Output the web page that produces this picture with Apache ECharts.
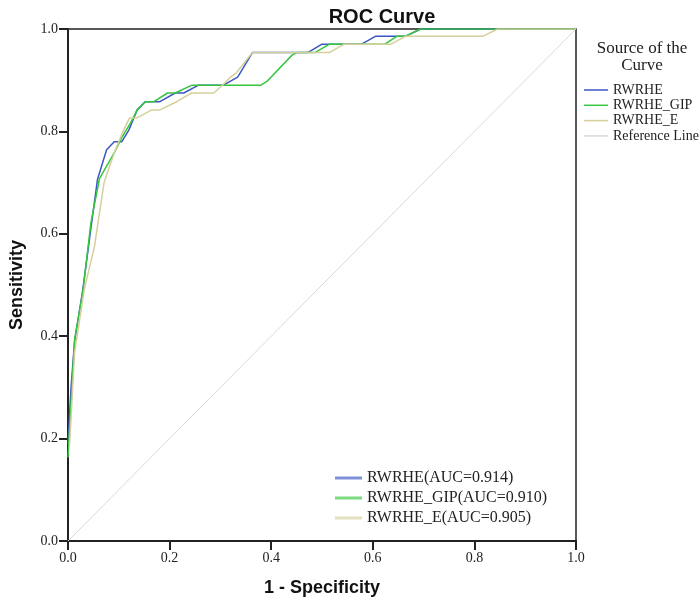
<!DOCTYPE html>
<html>
<head>
<meta charset="utf-8">
<script src="https://cdn.jsdelivr.net/npm/echarts@6/dist/echarts.min.js"></script>
<style>html,body{margin:0;padding:0;background:#fff}#c{width:700px;height:602px}</style>
</head>
<body>
<div id="c"></div>
<script>
// Data (1 - Specificity, Sensitivity)
const fprRWRHE = [0, 0.006, 0.013, 0.029, 0.047, 0.058, 0.076, 0.091, 0.106, 0.12, 0.136, 0.152, 0.181, 0.211, 0.228, 0.256, 0.305, 0.334, 0.363, 0.472, 0.499, 0.577, 0.606, 0.665, 0.694, 1];
const tprRWRHE = [0.19, 0.30, 0.39, 0.49, 0.625, 0.706, 0.764, 0.780, 0.780, 0.803, 0.842, 0.858, 0.858, 0.875, 0.875, 0.890, 0.890, 0.906, 0.954, 0.954, 0.970, 0.970, 0.986, 0.986, 1.0, 1.0];

const fprGIP = [0, 0.013, 0.029, 0.045, 0.062, 0.076, 0.091, 0.107, 0.123, 0.137, 0.152, 0.169, 0.196, 0.211, 0.243, 0.379, 0.392, 0.441, 0.451, 0.486, 0.514, 0.623, 0.648, 0.665, 0.694, 1];
const tprGIP = [0.163, 0.394, 0.485, 0.621, 0.708, 0.732, 0.758, 0.790, 0.816, 0.843, 0.858, 0.858, 0.875, 0.875, 0.890, 0.890, 0.898, 0.949, 0.954, 0.954, 0.970, 0.970, 0.986, 0.986, 1.0, 1.0];

const fprE = [0.003, 0.013, 0.032, 0.052, 0.071, 0.091, 0.107, 0.121, 0.135, 0.165, 0.181, 0.214, 0.243, 0.287, 0.305, 0.321, 0.331, 0.363, 0.514, 0.543, 0.635, 0.665, 0.817, 0.846, 1];
const tprE = [0.186, 0.368, 0.491, 0.575, 0.700, 0.758, 0.797, 0.826, 0.826, 0.842, 0.842, 0.858, 0.875, 0.875, 0.891, 0.907, 0.914, 0.954, 0.954, 0.970, 0.970, 0.986, 0.986, 1.0, 1.0];

const fprRef = [0, 1];
const tprRef = [0, 1];

const seriesNames = ['RWRHE', 'RWRHE_GIP', 'RWRHE_E', 'Reference Line'];
const aucLabels = ['RWRHE(AUC=0.914)', 'RWRHE_GIP(AUC=0.910)', 'RWRHE_E(AUC=0.905)'];

const colors = ['#3b57c4', '#35c63e', '#d6cf9b', '#d9d9d9'];
const zip = (xs, ys) => xs.map((x, i) => [x, ys[i]]);
const datasets = [zip(fprRWRHE, tprRWRHE), zip(fprGIP, tprGIP), zip(fprE, tprE), zip(fprRef, tprRef)];

const serif = 'Liberation Serif, Times New Roman, serif';
const sans = 'Liberation Sans, Arial, sans-serif';

const chart = echarts.init(document.getElementById('c'), null, {renderer: 'canvas'});
const axisCommon = {
  type: 'value', min: 0, max: 1, interval: 0.2,
  nameLocation: 'middle',
  nameTextStyle: {fontFamily: sans, fontWeight: 'bold', fontSize: 18, color: '#111'},
  axisLine: {show: true, onZero: false, lineStyle: {color: '#222', width: 2}},
  axisTick: {show: true, inside: false, length: 9, lineStyle: {color: '#222', width: 2}},
  axisLabel: {fontFamily: serif, fontSize: 14, color: '#222', margin: 10,
    formatter: v => v.toFixed(1)},
  splitLine: {show: false}
};
chart.setOption({
  animation: false,
  backgroundColor: '#fff',
  title: [
    {text: 'ROC Curve', left: 377, top: 2, textAlign: 'center',
     textStyle: {fontFamily: sans, fontWeight: 'bold', fontSize: 20, color: '#111'}},
    {text: 'Source of the\nCurve', left: 637, top: 35, textAlign: 'center',
     textStyle: {fontFamily: serif, fontWeight: 'normal', fontSize: 17, lineHeight: 17, color: '#222'}}
  ],
  grid: {left: 62, right: 124, top: 29, bottom: 60, show: true, borderColor: '#222', borderWidth: 1.5, containLabel: false},
  xAxis: Object.assign({}, axisCommon, {name: '1 - Specificity', nameGap: 38}),
  yAxis: Object.assign({}, axisCommon, {name: 'Sensitivity', nameGap: 42}),
  legend: [
    {data: seriesNames, orient: 'vertical', left: 579, top: 78,
     icon: 'rect', itemWidth: 24, itemHeight: 1.5, itemGap: 1.3,
     textStyle: {fontFamily: serif, fontSize: 14, lineHeight: 14, color: '#222'},
     selectedMode: false},
    {data: seriesNames.slice(0, 3), orient: 'vertical', left: 330, top: 465,
     icon: 'rect', itemWidth: 27, itemHeight: 3, itemGap: 4,
     itemStyle: {opacity: 0.65},
     formatter: name => aucLabels[seriesNames.indexOf(name)],
     textStyle: {fontFamily: serif, fontSize: 16, lineHeight: 16, color: '#222'},
     selectedMode: false}
  ],
  series: [3, 0, 1, 2].map(i => ({
    name: seriesNames[i],
    type: 'line',
    data: datasets[i],
    showSymbol: false,
    symbol: 'none',
    smooth: false,
    color: colors[i],
    lineStyle: {color: colors[i], width: i === 3 ? 1 : 1.5},
    z: 2 + i
  }))
});
</script>
</body>
</html>
